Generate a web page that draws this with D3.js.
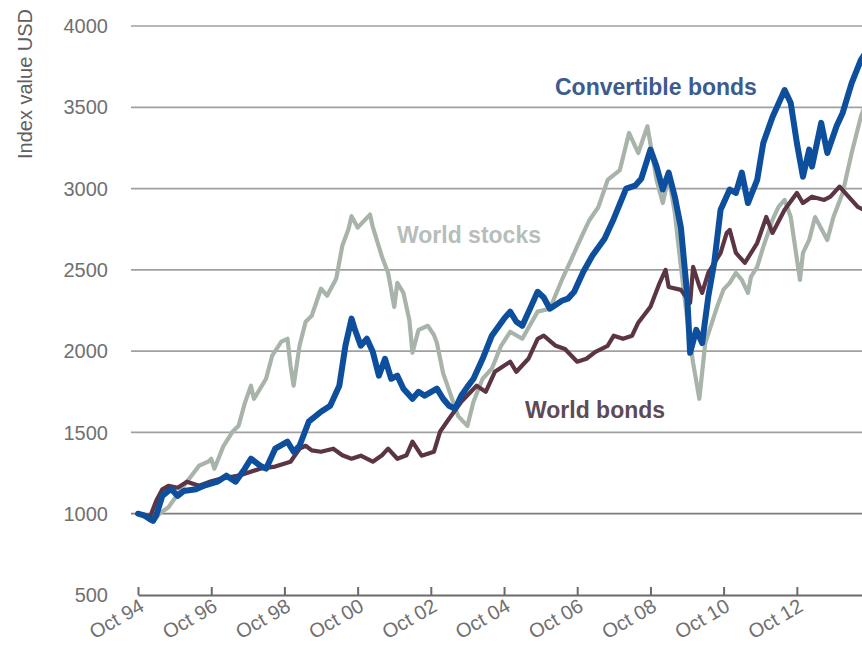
<!DOCTYPE html>
<html>
<head>
<meta charset="utf-8">
<script src="https://cdn.jsdelivr.net/npm/d3@7"></script>
<style>
  html, body { margin: 0; padding: 0; background: #fff; }
  svg { display: block; font-family: "Liberation Sans", Arial, Helvetica, sans-serif; }
</style>
</head>
<body>
<svg id="chart" width="862" height="647"></svg>
<script>
// Index values (USD, start = 1000), monthly readings as [month, value]
const worldStocks = [
  ["1994-10",1000],["1995-01",975],["1995-03",950],["1995-05",1000],["1995-08",1040],
  ["1995-11",1120],["1996-02",1197],["1996-06",1295],["1996-09",1320],["1996-10",1338],
  ["1996-11",1277],["1997-02",1418],["1997-05",1504],["1997-07",1541],["1997-09",1680],
  ["1997-11",1787],["1997-12",1707],["1998-02",1769],["1998-04",1830],["1998-06",1972],
  ["1998-09",2058],["1998-11",2076],["1998-12",1910],["1999-01",1787],["1999-03",2033],
  ["1999-05",2181],["1999-07",2218],["1999-10",2384],["1999-12",2341],["2000-03",2445],
  ["2000-05",2648],["2000-07",2750],["2000-08",2830],["2000-10",2760],["2000-12",2800],
  ["2001-02",2840],["2001-03",2765],["2001-06",2580],["2001-08",2481],["2001-10",2272],
  ["2001-11",2420],["2002-01",2358],["2002-03",2192],["2002-04",1990],["2002-06",2131],
  ["2002-09",2156],["2002-11",2100],["2002-12",2050],["2003-02",1865],["2003-05",1707],
  ["2003-07",1600],["2003-10",1540],["2003-12",1689],["2004-03",1830],["2004-06",1892],
  ["2004-09",2033],["2004-12",2119],["2005-04",2076],["2005-09",2243],["2006-01",2261],
  ["2006-05",2438],["2006-08",2562],["2006-12",2727],["2007-02",2807],["2007-05",2887],
  ["2007-08",3053],["2007-12",3114],["2008-03",3342],["2008-06",3219],["2008-09",3383],
  ["2008-12",3053],["2009-02",2911],["2009-04",3073],["2009-06",2850],["2009-08",2518],
  ["2009-11",2050],["2009-12",1927],["2010-02",1707],["2010-04",2050],["2010-08",2280],
  ["2010-10",2380],["2010-12",2420],["2011-02",2481],["2011-04",2438],["2011-06",2358],
  ["2011-07",2457],["2011-09",2518],["2011-11",2641],["2012-02",2807],["2012-04",2887],
  ["2012-06",2930],["2012-08",2825],["2012-11",2438],["2012-12",2604],["2013-02",2684],
  ["2013-04",2825],["2013-08",2684],["2013-10",2825],["2014-01",2973],["2014-04",3219],
  ["2014-07",3440],["2014-09",3550]
];

const worldBonds = [
  ["1994-10",1000],["1994-12",990],["1995-02",985],["1995-04",1080],["1995-06",1150],
  ["1995-08",1172],["1995-11",1160],["1996-02",1197],["1996-06",1172],["1996-10",1200],
  ["1997-01",1215],["1997-07",1234],["1998-02",1277],["1998-07",1290],["1998-12",1320],
  ["1999-03",1400],["1999-05",1418],["1999-07",1390],["1999-10",1381],["2000-02",1400],
  ["2000-05",1360],["2000-08",1338],["2000-11",1357],["2001-03",1320],["2001-06",1360],
  ["2001-08",1400],["2001-11",1338],["2002-02",1360],["2002-04",1443],["2002-07",1357],
  ["2002-11",1381],["2003-01",1504],["2003-04",1584],["2003-08",1689],["2004-01",1787],
  ["2004-04",1750],["2004-07",1873],["2004-12",1935],["2005-02",1873],["2005-06",1953],
  ["2005-09",2076],["2005-11",2095],["2006-03",2033],["2006-06",2013],["2006-10",1935],
  ["2007-01",1953],["2007-04",1996],["2007-08",2033],["2007-10",2095],["2008-01",2076],
  ["2008-04",2095],["2008-06",2175],["2008-10",2273],["2009-01",2420],["2009-03",2500],
  ["2009-04",2395],["2009-08",2377],["2009-11",2297],["2009-12",2518],["2010-02",2400],
  ["2010-03",2358],["2010-05",2481],["2010-09",2604],["2010-11",2727],["2010-12",2746],
  ["2011-02",2604],["2011-05",2543],["2011-09",2665],["2011-12",2825],["2012-02",2727],
  ["2012-06",2870],["2012-10",2973],["2012-12",2911],["2013-03",2950],["2013-07",2930],
  ["2013-09",2950],["2013-12",3012],["2014-03",2950],["2014-06",2887],["2014-09",2860]
];

const convertibleBonds = [
  ["1994-10",1000],["1994-12",990],["1995-02",965],["1995-03",957],["1995-04",990],
  ["1995-06",1110],["1995-08",1140],["1995-09",1150],["1995-11",1110],["1996-01",1140],
  ["1996-05",1150],["1996-08",1175],["1996-12",1197],["1997-03",1234],["1997-06",1197],
  ["1997-09",1277],["1997-11",1338],["1998-02",1295],["1998-04",1277],["1998-07",1400],
  ["1998-11",1443],["1999-01",1381],["1999-03",1418],["1999-06",1566],["1999-10",1627],
  ["2000-01",1664],["2000-04",1787],["2000-06",2033],["2000-08",2200],["2000-09",2138],
  ["2000-11",2033],["2001-01",2076],["2001-03",1996],["2001-05",1849],["2001-07",1953],
  ["2001-09",1830],["2001-11",1849],["2002-01",1769],["2002-04",1707],["2002-06",1750],
  ["2002-08",1726],["2002-12",1769],["2003-02",1707],["2003-04",1664],["2003-06",1646],
  ["2003-08",1726],["2003-10",1780],["2003-12",1830],["2004-03",1953],["2004-06",2095],
  ["2004-10",2200],["2004-12",2243],["2005-02",2181],["2005-04",2156],["2005-07",2280],
  ["2005-09",2365],["2005-11",2330],["2006-01",2261],["2006-05",2310],["2006-07",2323],
  ["2006-09",2365],["2006-12",2488],["2007-03",2587],["2007-07",2692],["2007-10",2815],
  ["2008-02",3000],["2008-05",3018],["2008-07",3060],["2008-10",3240],["2008-12",3135],
  ["2009-02",2994],["2009-04",3098],["2009-06",2950],["2009-08",2760],["2009-10",2358],
  ["2009-11",1990],["2010-01",2131],["2010-03",2050],["2010-05",2334],["2010-07",2550],
  ["2010-09",2870],["2010-12",2994],["2011-02",2973],["2011-04",3098],["2011-06",2911],
  ["2011-09",3053],["2011-11",3281],["2012-02",3440],["2012-06",3606],["2012-08",3526],
  ["2012-10",3281],["2012-12",3073],["2013-02",3240],["2013-03",3135],["2013-06",3404],
  ["2013-08",3219],["2013-11",3383],["2014-01",3465],["2014-04",3649],["2014-07",3790],
  ["2014-09",3850]
];

const yTicks = [500, 1000, 1500, 2000, 2500, 3000, 3500, 4000];
const xTickLabels = ["Oct 94","Oct 96","Oct 98","Oct 00","Oct 02","Oct 04","Oct 06","Oct 08","Oct 10","Oct 12"];
const xTickDates = ["1994-10","1996-10","1998-10","2000-10","2002-10","2004-10","2006-10","2008-10","2010-10","2012-10"];

const parseMonth = d3.timeParse("%Y-%m");
const svg = d3.select("#chart");

const x = d3.scaleTime()
  .domain([parseMonth("1994-10"), parseMonth("2014-10")])
  .range([138, 870]);
const y = d3.scaleLinear().domain([500, 4000]).range([595, 26]);

// Horizontal gridlines
svg.append("g")
  .selectAll("line")
  .data(yTicks.filter(v => v > 500))
  .join("line")
  .attr("x1", 131).attr("x2", 862)
  .attr("y1", d => y(d)).attr("y2", d => y(d))
  .attr("stroke", d => d === 1000 ? "#7d7d7d" : "#a0a0a0")
  .attr("stroke-width", 1.7);

// Y tick labels
svg.append("g")
  .selectAll("text")
  .data(yTicks)
  .join("text")
  .attr("x", 108)
  .attr("y", d => y(d))
  .attr("dy", "0.36em")
  .attr("text-anchor", "end")
  .attr("font-size", 20)
  .attr("fill", "#707070")
  .text(d => d);

// Y axis title
svg.append("text")
  .attr("transform", "translate(32,84) rotate(-90)")
  .attr("text-anchor", "middle")
  .attr("font-size", 20)
  .attr("fill", "#5f5f5f")
  .text("Index value USD");

// X axis (baseline at 500 with upward ticks)
const xAxis = d3.axisBottom(x)
  .tickValues(xTickDates.map(parseMonth))
  .tickSize(-8)
  .tickSizeOuter(0)
  .tickFormat((d, i) => xTickLabels[i]);

const gx = svg.append("g")
  .attr("transform", `translate(0,${y(500)})`)
  .call(xAxis);
gx.select(".domain").attr("stroke", "#6a6a6a").attr("stroke-width", 2.2);
gx.selectAll(".tick line").attr("stroke", "#6a6a6a").attr("stroke-width", 2);
gx.selectAll(".tick text")
  .attr("font-family", "'Liberation Sans', Arial, sans-serif")
  .attr("font-size", 20)
  .attr("fill", "#707070")
  .attr("text-anchor", "end")
  .attr("y", 0)
  .attr("dy", 0)
  .attr("transform", "translate(7,15) rotate(-30)");

// Series lines
const line = d3.line()
  .x(d => x(parseMonth(d[0])))
  .y(d => y(d[1]))
  .curve(d3.curveLinear);

const series = [
  { data: worldStocks, color: "#a8b4aa", width: 4.2 },
  { data: worldBonds, color: "#5b3544", width: 4.2 },
  { data: convertibleBonds, color: "#0d4f9d", width: 6 }
];

svg.append("g")
  .selectAll("path")
  .data(series)
  .join("path")
  .attr("d", d => line(d.data))
  .attr("fill", "none")
  .attr("stroke", d => d.color)
  .attr("stroke-width", d => d.width)
  .attr("stroke-linejoin", "round")
  .attr("stroke-linecap", "round");

// Series labels
const labels = [
  { text: "Convertible bonds", x: 555, y: 95, color: "#3c5b8e" },
  { text: "World stocks", x: 397, y: 243, color: "#b7bdb8" },
  { text: "World bonds", x: 525, y: 418, color: "#5d4a55" }
];
svg.append("g")
  .selectAll("text")
  .data(labels)
  .join("text")
  .attr("x", d => d.x)
  .attr("y", d => d.y)
  .attr("font-size", 23)
  .attr("font-weight", "bold")
  .attr("fill", d => d.color)
  .text(d => d.text);
</script>
</body>
</html>
